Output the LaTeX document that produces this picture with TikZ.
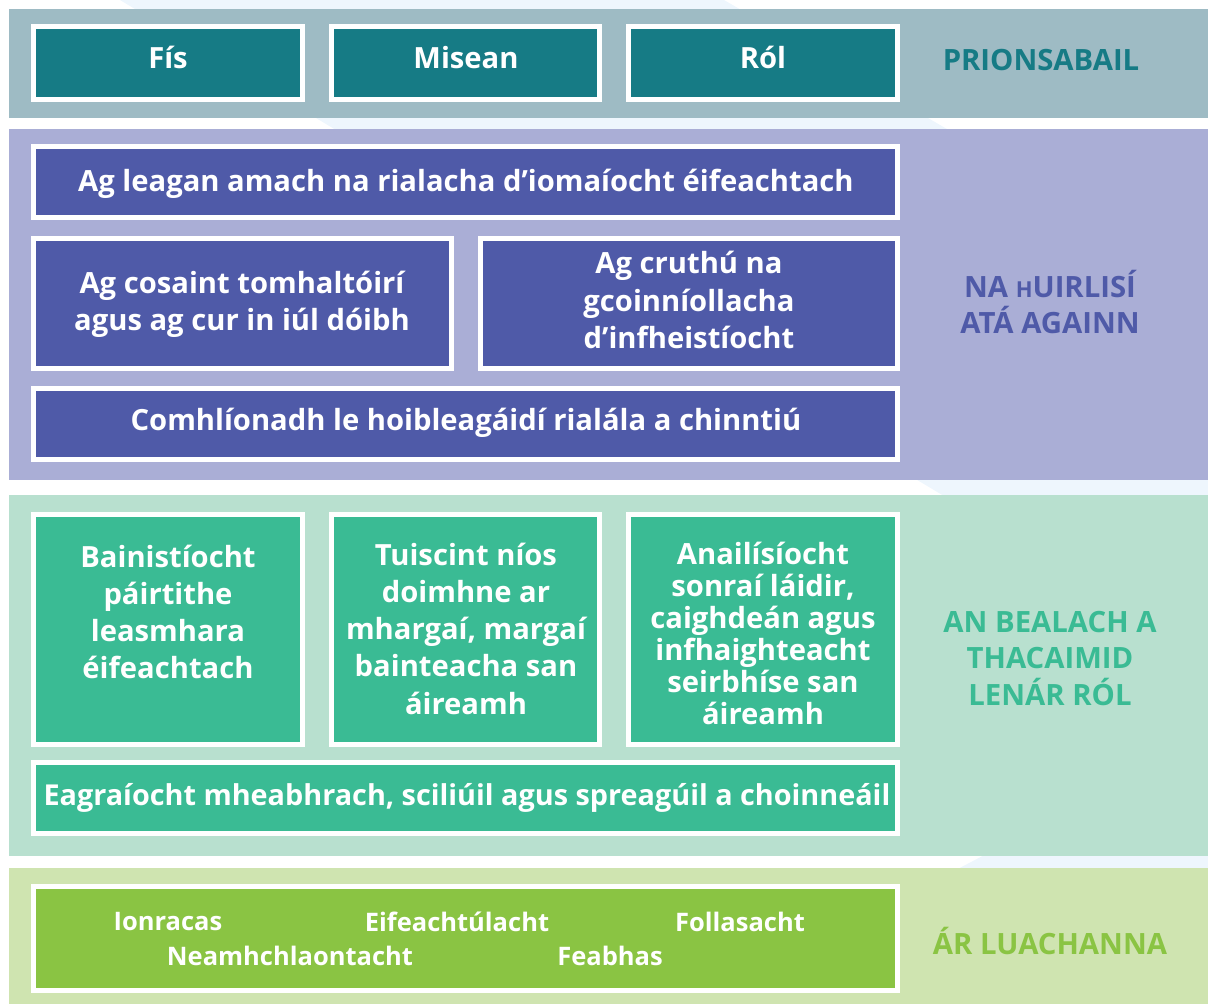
\documentclass[tikz,border=0pt]{standalone}
\usepackage{fontspec}
\setmainfont{Open Sans}
\usetikzlibrary{positioning}
\definecolor{bgblue}{HTML}{EEF6FD}
\definecolor{bandA}{HTML}{9EBBC4}
\definecolor{tealA}{HTML}{167B85}
\definecolor{bandB}{HTML}{AAAED6}
\definecolor{indigoB}{HTML}{4F5AA8}
\definecolor{bandC}{HTML}{B8E0CF}
\definecolor{greenC}{HTML}{3ABB94}
\definecolor{bandD}{HTML}{CFE4B0}
\definecolor{limeD}{HTML}{8AC443}
\tikzset{
  tile/.style = {draw=white, line width=5pt, fill=#1, anchor=north west,
    inner sep=0pt, outer sep=0pt},
  tiletext/.style = {text=white, inner sep=0pt, align=center,
    font=\bfseries\fontsize{29.2}{37.3}\selectfont},
  valtext/.style = {text=white, inner sep=0pt,
    font=\bfseries\fontsize{25.5}{30}\selectfont},
  heading/.style = {text=#1, inner sep=0pt, align=center,
    font=\bfseries\fontsize{29.3}{36.5}\selectfont}
}

\begin{document}
\begin{tikzpicture}[x=1pt,y=-1pt]
  \useasboundingbox (0,0) rectangle (1208,1004);
  \clip (0,0) rectangle (1208,1004);
  % light background chevron
  \fill[bgblue] (120,0) -- (724,0) -- (1208,280) -- (1208,1004) -- (701,1004) -- (1281,699) -- cycle;
  % bands
  \fill[bandA] (9,9)   rectangle (1208,118);
  \fill[bandB] (9,129) rectangle (1208,480);
  \fill[bandC] (9,495) rectangle (1208,856);
  \fill[bandD] (9,868) rectangle (1208,1004);

  % PRIONSABAIL
  \node[tile=tealA, minimum width=269pt, minimum height=73pt] (fis) at (33.5,26.5) {};
  \node[tile=tealA, minimum width=268pt, minimum height=73pt] (misean) at (331.5,26.5) {};
  \node[tile=tealA, minimum width=269pt, minimum height=73pt] (rol) at (628.5,26.5) {};
  \node[tiletext] (fist) at (168,57.5) {Fís};
  \node[tiletext] (miseant) at (466,57.5) {Misean};
  \node[tiletext] (rolt) at (763,57.5) {Ról};
  \node[heading=tealA] (prionsabail) at (1041,60.5) {PRIONSABAIL};

  % NA hUIRLISI
  \node[tile=indigoB, minimum width=864pt, minimum height=71pt] (leagan) at (33.5,146.5) {};
  \node[tile=indigoB, minimum width=418pt, minimum height=130pt] (cosaint) at (33.5,238.5) {};
  \node[tile=indigoB, minimum width=417pt, minimum height=130pt] (cruthu) at (480.5,238.5) {};
  \node[tile=indigoB, minimum width=864pt, minimum height=71pt] (comhlionadh) at (33.5,388.5) {};
  \node[tiletext] (leagant) at (466,184) {Ag leagan amach na rialacha d’iomaíocht éifeachtach};
  \node[tiletext] (cosaintt) at (242,304) {Ag cosaint tomhaltóirí\\agus ag cur in iúl dóibh};
  \node[tiletext] (cruthut) at (689,300) {Ag cruthú na\\gcoinníollacha\\d’infheistíocht};
  \node[tiletext] (comhlionadht) at (466,423) {Comhlíonadh le hoibleagáidí rialála a chinntiú};
  \node[heading=indigoB] (uirlisi) at (1050,302) {NA {\fontsize{22}{36.5}\selectfont H}UIRLISÍ\\ATÁ AGAINN};

  % AN BEALACH
  \node[tile=greenC, minimum width=269pt, minimum height=230pt] (bainistiocht) at (33.5,514.5) {};
  \node[tile=greenC, minimum width=268pt, minimum height=230pt] (tuiscint) at (331.5,514.5) {};
  \node[tile=greenC, minimum width=269pt, minimum height=230pt] (anailisiocht) at (628.5,514.5) {};
  \node[tile=greenC, minimum width=864pt, minimum height=71pt] (eagraiocht) at (33.5,762.5) {};
  \node[tiletext, anchor=north] (bainistiochtt) at (168,544.5) {Bainistíocht\\páirtithe\\leasmhara\\éifeachtach};
  \node[tiletext, anchor=north] (tuiscintt) at (466,542.5) {Tuiscint níos\\doimhne ar\\mhargaí, margaí\\bainteacha san\\áireamh};
  \node[tiletext, anchor=north, font=\bfseries\fontsize{29.2}{32}\selectfont] (anailisiochtt) at (763,541.5)
    {Anailísíocht\\sonraí láidir,\\caighdeán agus\\infhaighteacht\\seirbhíse san\\áireamh};
  \node[tiletext, font=\bfseries\fontsize{28.8}{37}\selectfont] (eagraiochtt) at (467,798) {Eagraíocht mheabhrach, sciliúil agus spreagúil a choinneáil};
  \node[heading=greenC] (bealach) at (1050,658.5) {AN BEALACH A\\THACAIMID\\LENÁR RÓL};

  % AR LUACHANNA
  \node[tile=limeD, minimum width=864pt, minimum height=104pt] (luachanna) at (33.5,886.5) {};
  \node[valtext] (ionracas) at (168,921.5) {Ionracas};
  \node[valtext] (eifeacht) at (457,921.5) {Eifeachtúlacht};
  \node[valtext] (follasacht) at (740,921.5) {Follasacht};
  \node[valtext] (neamh) at (290,955.5) {Neamhchlaontacht};
  \node[valtext] (feabhas) at (610,955.5) {Feabhas};
  \node[heading=limeD] (luachannah) at (1050,941) {ÁR LUACHANNA};
\end{tikzpicture}
\end{document}
